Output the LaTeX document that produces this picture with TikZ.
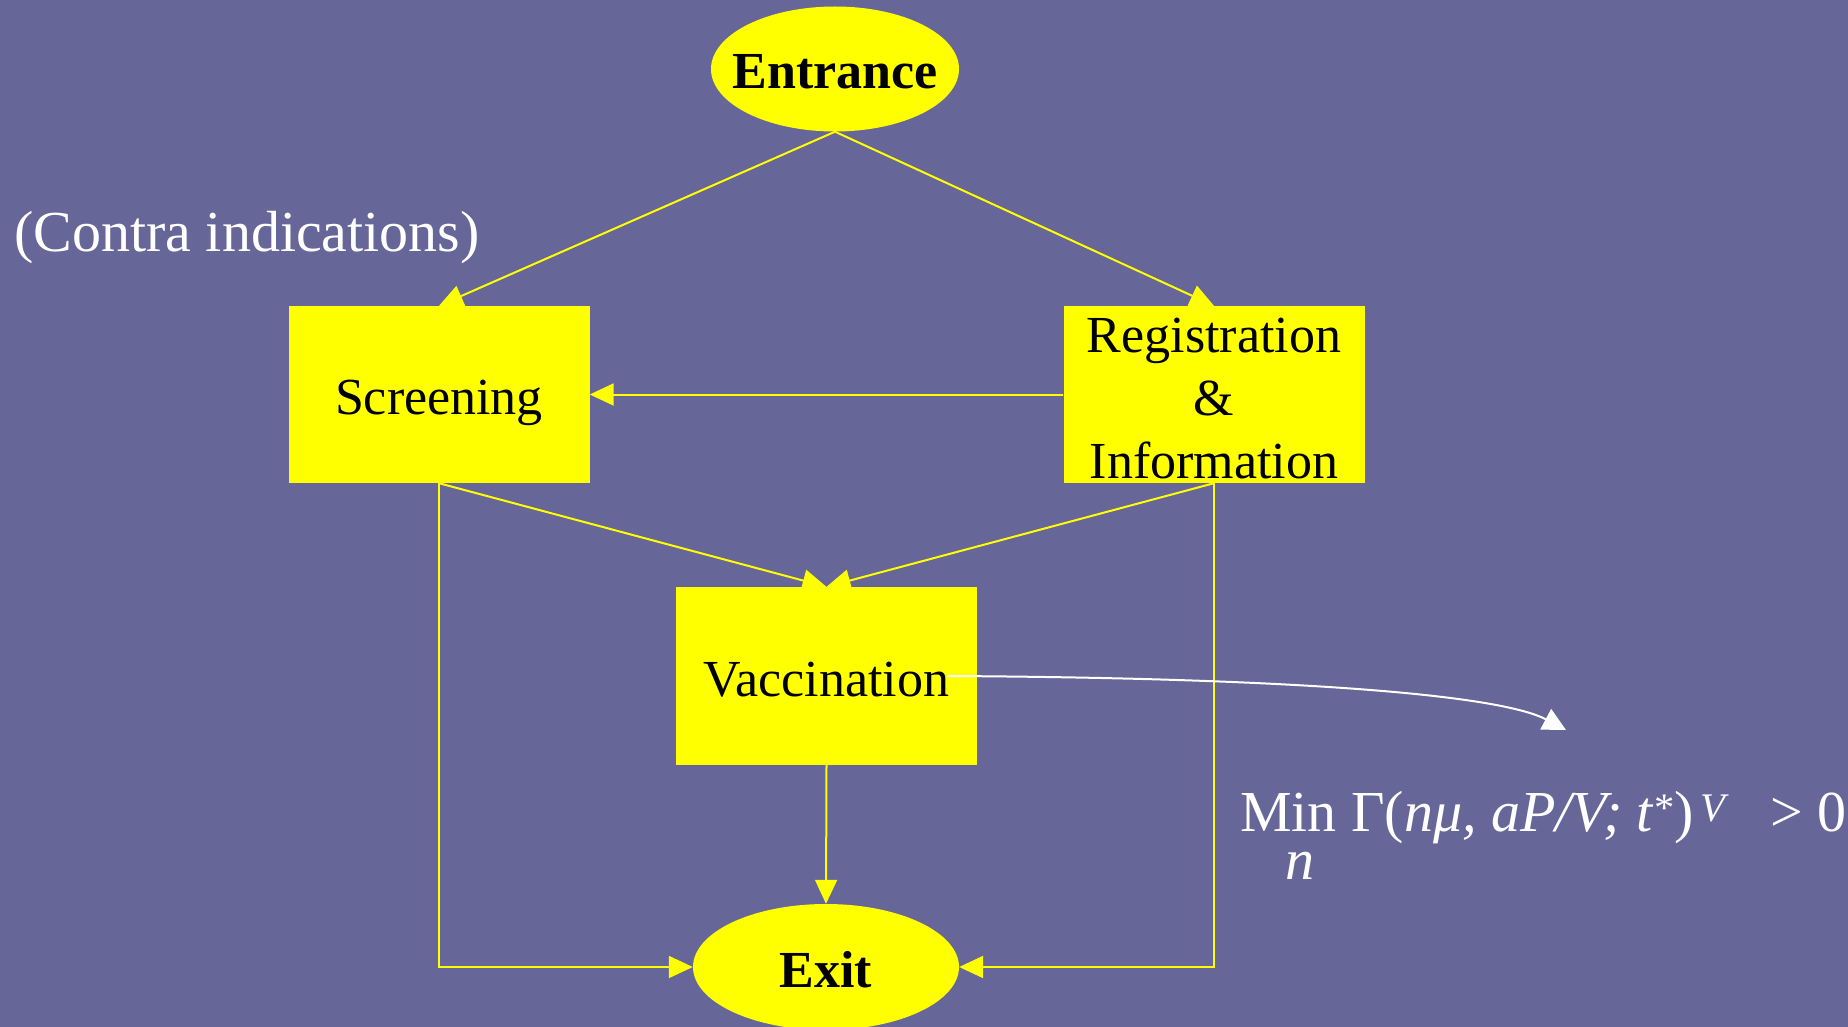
\documentclass[tikz,border=0pt]{standalone}
\usepackage{fontspec}
\setmainfont{Liberation Serif}
\usetikzlibrary{shapes.geometric,arrows.meta}
\definecolor{slate}{RGB}{102,102,153}
\definecolor{lemon}{RGB}{255,255,0}
\pgfdeclarelayer{bg}
\pgfdeclarelayer{wires}
\pgfsetlayers{bg,wires,main}

\begin{document}
\begin{tikzpicture}[x=1pt,y=-1pt,
  box/.style={rectangle,fill=lemon,minimum width=301pt,minimum height=177pt,
    inner sep=0pt,align=center,font=\fontsize{52}{63}\selectfont},
  oneline/.style={text height=40pt,text depth=0pt},
  oval/.style={ellipse,fill=lemon,inner sep=0pt,oneline,
    font=\fontsize{52}{63}\selectfont\bfseries},
  flow/.style={draw=lemon,line width=2pt,-{Triangle[length=24pt,width=22pt]}},
  note/.style={text=white,inner sep=0pt,font=\fontsize{58}{70}\selectfont}]

% page and backdrop
\useasboundingbox (0,0) rectangle (1848,1027);
\begin{pgfonlayer}{bg}
  \fill[slate] (0,0) rectangle (1848,1027);
\end{pgfonlayer}

% stations
\node[oval,minimum width=248pt,minimum height=125pt] (ent) at (835,69)
  {\makebox[0pt]{Entrance}};
\node[box,oneline] (scr) at (439,394.5) {Screening};
\node[box] (reg) at (1214,394.5) {\rule{0pt}{43pt}Registration\\\&\\Information};
\node[box,oneline,minimum height=178pt] (vac) at (826.5,676) {Vaccination};
\node[oval,minimum width=266pt,minimum height=126pt] (ext) at (826,967)
  {\makebox[0pt]{Exit}};

% labels
\node[note,anchor=base west] (ci) at (14,252) {(Contra indications)};
\node[note,anchor=base west] (opt) at (1240,831)
  {\makebox[530pt][l]{Min Γ(\textit{nμ, aP/V; t}\textsuperscript{*})\textsuperscript{\,\textit{V}}}> 0};
\node[note,anchor=base west,text height=26pt] (optn) at (1285,879) {\textit{n}};

% flow between stations, kept under the boxes
\begin{pgfonlayer}{wires}
  \draw[flow] (ent.south) -- (scr.north);
  \draw[flow] (ent.south) -- (reg.north);
  \draw[flow] (reg.west) -- (scr.east);
  \draw[flow] (scr.south) -- (vac.north);
  \draw[flow] (reg.south) -- (vac.north);
  \draw[flow] (vac.south) -- (ext.north);
  \draw[flow] (scr.south) |- (ext.west);
  \draw[flow] (reg.south) |- (ext.east);
\end{pgfonlayer}

% link from vaccination to the optimisation condition
\coordinate (cond) at (1566,730);
\draw[white,line width=2pt,-{Triangle[length=23pt,width=23pt]}]
  ([xshift=-30pt]vac.east) .. controls (1300,678) and (1500,695) .. (cond);
\end{tikzpicture}
\end{document}
